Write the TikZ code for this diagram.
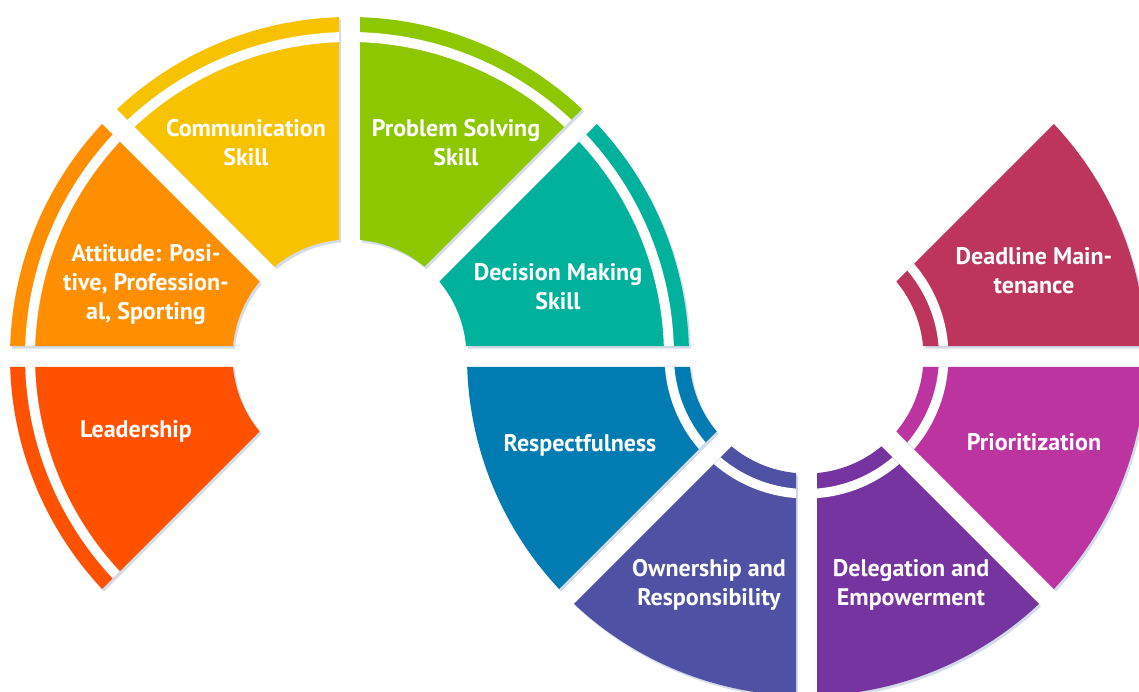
\documentclass[tikz,border=0pt]{standalone}
\usepackage{fontspec}
\setmainfont{PT Sans}
\usetikzlibrary{shadows}
\definecolor{leadcol}{HTML}{FF5100}
\definecolor{attcol}{HTML}{FF8F00}
\definecolor{commcol}{HTML}{F7C300}
\definecolor{probcol}{HTML}{8DC700}
\definecolor{deccol}{HTML}{00B19C}
\definecolor{respcol}{HTML}{007CB2}
\definecolor{owncol}{HTML}{4F52A4}
\definecolor{delcol}{HTML}{7534A0}
\definecolor{priocol}{HTML}{BB349F}
\definecolor{deadcol}{HTML}{BD355D}
\definecolor{shadowcol}{HTML}{9DB2CC}
\tikzset{
  piece/.style={
    drop shadow={shadow xshift=2pt, shadow yshift=-2.5pt, opacity=0.45, fill=shadowcol}
  },
  stripe/.style={
    fill=white
  },
  skill/.style={
    text=white,
    align=center,
    inner sep=0pt,
    font=\bfseries\fontsize{24}{29}\selectfont
  },
  % piece of a ring from angle #1 to #2, radii #3 to #4, 10.5 cut off each ray
  ring piece/.style n args={4}{
    insert path={
      ({#1+asin(10.5/#4)}:#4pt) arc[start angle={#1+asin(10.5/#4)}, end angle={#2-asin(10.5/#4)}, radius=#4pt]
      -- ({#2-asin(10.5/#3)}:#3pt) arc[start angle={#2-asin(10.5/#3)}, end angle={#1+asin(10.5/#3)}, radius=#3pt]
      -- cycle
    }
  }
}
\begin{document}
\begin{tikzpicture}
  \clip (0pt,0pt) rectangle (1139pt,-692pt);
  % left ring, stripe on the outside
  \begin{scope}[shift={(349.5pt,-356.5pt)}]
    \foreach \a/\col in {180/leadcol,135/attcol,90/commcol,45/probcol,0/deccol}{
      \fill[\col,piece] [ring piece={\a}{\a+45}{117}{339.5}];
      \fill[stripe] [ring piece={\a}{\a+45}{314.5}{324.5}];
    }
  \end{scope}
  % right ring, stripe on the inside
  \begin{scope}[shift={(806.5pt,-356.5pt)}]
    \foreach \a/\col in {180/respcol,225/owncol,270/delcol,315/priocol,0/deadcol}{
      \fill[\col,piece] [ring piece={\a}{\a+45}{117}{339.5}];
      \fill[stripe] [ring piece={\a}{\a+45}{132.5}{142}];
    }
  \end{scope}
  \node[skill] (lead) at (136pt,-431pt) {Leadership};
  \node[skill] (attitude) at (146pt,-285pt) {Attitude: Posi-\\tive, Profession-\\al, Sporting};
  \node[skill] (comm) at (246pt,-143pt) {Communication\\Skill};
  \node[skill] (problem) at (456pt,-143pt) {Problem Solving\\Skill};
  \node[skill] (decision) at (558pt,-287pt) {Decision Making\\Skill};
  \node[skill] (respect) at (580pt,-445pt) {Respectfulness};
  \node[skill] (owner) at (709pt,-585pt) {Ownership and\\Responsibility};
  \node[skill] (deleg) at (911pt,-585pt) {Delegation and\\Empowerment};
  \node[skill] (prior) at (1034pt,-442pt) {Prioritization};
  \node[skill] (deadline) at (1034pt,-271pt) {Deadline Main-\\tenance};
\end{tikzpicture}
\end{document}
